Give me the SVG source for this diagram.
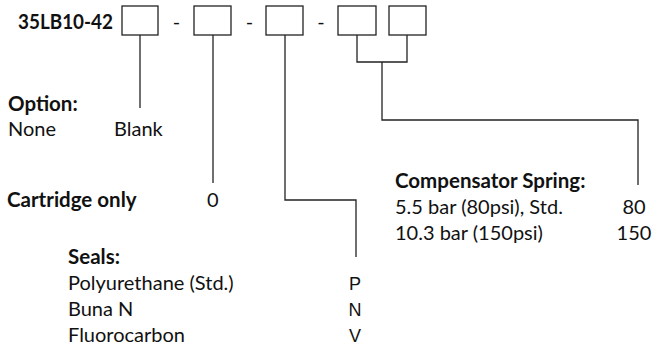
<svg xmlns="http://www.w3.org/2000/svg" width="653" height="347" viewBox="0 0 653 347">
<style>
text{font-family:Lato,"Liberation Sans",sans-serif;font-size:20px;fill:#111}
.b{font-weight:bold;font-size:20.5px}
.a{font-family:"Liberation Sans",Arial,sans-serif;font-size:18px}
.box{fill:#fff;stroke:#222;stroke-width:1.3}
.ln{fill:none;stroke:#222;stroke-width:1.3}
</style>
<rect width="653" height="347" fill="#fff"/>
<g id="part-number">
<text class="b" x="18" y="29" textLength="95" lengthAdjust="spacingAndGlyphs">35LB10-42</text>
<text x="176.5" y="29" text-anchor="middle">-</text>
<text x="249.5" y="29" text-anchor="middle">-</text>
<text x="321" y="29" text-anchor="middle">-</text>
</g>
<g id="box-option"><rect class="box" x="122" y="6" width="36" height="29"/></g>
<g id="box-cartridge"><rect class="box" x="194" y="6" width="37" height="29"/></g>
<g id="box-seals"><rect class="box" x="266" y="6" width="37" height="29"/></g>
<g id="box-spring-1"><rect class="box" x="338" y="6" width="38" height="29"/></g>
<g id="box-spring-2"><rect class="box" x="389" y="6" width="37" height="29"/></g>
<g id="connectors">
<path class="ln" d="M140 35V108"/>
<path class="ln" d="M213 35V183"/>
<path class="ln" d="M285 35V200H356V257"/>
<path class="ln" d="M357 35V62H407V35M382 62V120H638V185"/>
</g>
<g id="option">
<text class="b" x="8" y="111">Option:</text>
<text x="8" y="136">None</text>
<text x="114" y="136">Blank</text>
</g>
<g id="cartridge">
<text class="b" x="7" y="207">Cartridge only</text>
<text x="207" y="207">0</text>
</g>
<g id="seals">
<text class="b" x="68" y="264">Seals:</text>
<text x="68" y="290">Polyurethane (Std.)</text>
<text x="68" y="316">Buna N</text>
<text x="68" y="342">Fluorocarbon</text>
<text class="a" x="355" y="290" text-anchor="middle">P</text>
<text class="a" x="355" y="316" text-anchor="middle">N</text>
<text class="a" x="355" y="342" text-anchor="middle">V</text>
</g>
<g id="spring">
<text class="b" x="395" y="188">Compensator Spring:</text>
<text x="395" y="214">5.5 bar (80psi), Std.</text>
<text x="395" y="240">10.3 bar (150psi)</text>
<text x="634" y="214" text-anchor="middle">80</text>
<text x="634" y="240" text-anchor="middle">150</text>
</g>
</svg>
